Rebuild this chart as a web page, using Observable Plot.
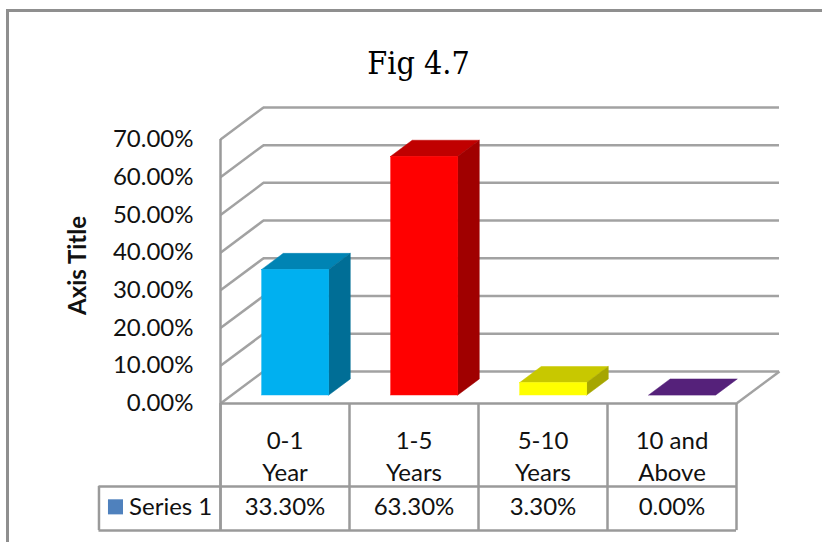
<!DOCTYPE html>
<html>
<head>
<meta charset="utf-8">
<script src="https://cdn.jsdelivr.net/npm/d3@7"></script>
<script src="https://cdn.jsdelivr.net/npm/@observablehq/plot@0.6"></script>
<style>
  html, body { margin: 0; padding: 0; background: #fff; }
  #wrap { position: relative; width: 822px; height: 542px; overflow: hidden; }
  #border {
    position: absolute; left: 6px; top: 9px; width: 900px; height: 600px;
    border: 3px solid #8f8f8f; box-sizing: border-box;
  }
  #chart { position: absolute; left: 0; top: 0; }
</style>
</head>
<body>
<div id="wrap"><div id="border"></div><div id="chart"></div></div>
<script>
// Years of experience distribution (Fig 4.7)
const categories = ["0-1\nYear", "1-5\nYears", "5-10\nYears", "10 and\nAbove"];
const values = [33.3, 63.3, 3.3, 0.0];
const seriesName = "Series 1";
const yTicks = [0, 10, 20, 30, 40, 50, 60, 70];
const frontColors = ["#00b0f0", "#ff0000", "#ffff00", "#7030a0"];
const topColors = ["#0084b4", "#c00000", "#c8c800", "#55217a"];
const sideColors = ["#006e96", "#a00000", "#a6a600", "#3f185c"];

// Oblique 3-D projection, expressed in data units of the front plane
const DX = 1 / 3;   // full depth, x shift (category units)
const DY = 8.5;     // full depth, y shift (percentage points)
const T0 = 0.25, T1 = 0.75; // bar front/back depth
const HALF = 0.26;  // half bar width
const left = -0.5, right = categories.length - 0.5;
const tableRow = -22, tableBottom = -33.7, legendLeft = -1.442;

const idx = categories.map((_, i) => i);

// bar faces
const fronts = idx.filter(i => values[i] > 0).map(i => ({
  x1: i - HALF + T0 * DX, x2: i + HALF + T0 * DX,
  y1: T0 * DY, y2: values[i] + T0 * DY, fill: frontColors[i]
}));
const sides = idx.filter(i => values[i] > 0).flatMap(i => [T0, T1].map(t => ({
  i, x: i + HALF + t * DX, y1: t * DY, y2: values[i] + t * DY, fill: sideColors[i]
})));
const tops = idx.flatMap(i => [T0, T1].map(t => ({
  i, y: values[i] + t * DY, x1: i - HALF + t * DX, x2: i + HALF + t * DX, fill: topColors[i]
})));

const grid = "#a2a2a2";
const line = "#9a9a9a";

const plot = Plot.plot({
  width: 822,
  height: 542,
  marginLeft: 220,
  marginRight: 86,
  marginTop: 139,
  marginBottom: 139,
  x: { domain: [left, right], axis: null },
  y: { domain: [0, 70], axis: null },
  color: { type: "identity" },
  style: { fontFamily: "Lato, 'Open Sans', sans-serif", fontSize: "24px", color: "#111", background: "transparent", overflow: "visible" },
  marks: [
    // side wall gridlines
    Plot.link(yTicks, { x1: left, y1: d => d, x2: left + DX, y2: d => d + DY, stroke: grid, strokeWidth: 2.5 }),
    // back wall gridlines
    Plot.ruleY(yTicks, { y: d => d + DY, x1: left + DX, x2: right + DX, stroke: grid, strokeWidth: 2.5 }),
    // floor right edge
    Plot.link([0], { x1: right, y1: 0, x2: right + DX, y2: DY, stroke: grid, strokeWidth: 2.5 }),
    // front vertical axis line, running down through the table
    Plot.ruleX([left], { y1: tableBottom, y2: 70, stroke: line, strokeWidth: 2.5 }),
    // floor front edge / table top
    Plot.ruleY([0], { x1: left, x2: right, stroke: line, strokeWidth: 2.5 }),
    // table grid
    Plot.ruleX(d3.range(categories.length + 1).map(k => k - 0.5), { y1: tableBottom, y2: 0, stroke: line, strokeWidth: 2.5 }),
    Plot.ruleX([legendLeft], { y1: tableBottom, y2: tableRow, stroke: line, strokeWidth: 2.5 }),
    Plot.ruleY([tableRow, tableBottom], { x1: legendLeft, x2: right, stroke: line, strokeWidth: 2.5 }),
    // bars
    Plot.areaX(tops, { y: "y", x1: "x1", x2: "x2", z: "i", fill: "fill", stroke: "fill", strokeWidth: 0.5 }),
    Plot.areaY(sides, { x: "x", y1: "y1", y2: "y2", z: "i", fill: "fill", stroke: "fill", strokeWidth: 0.5 }),
    Plot.rect(fronts, { x1: "x1", x2: "x2", y1: "y1", y2: "y2", fill: "fill", stroke: "fill", strokeWidth: 0.5 }),
    // value axis
    Plot.axisY({ ticks: yTicks, tickFormat: d => d.toFixed(2) + "%", tickSize: 0, tickPadding: 27, fontSize: 24, fill: "#111" }),
    Plot.text(["Axis Title"], { x: -1.605, y: 36.6, rotate: -90, fontWeight: "bold", fontSize: 24, fill: "#111" }),
    // data table
    Plot.text(idx, { x: i => i, y: -13.6, text: i => categories[i], lineHeight: 1.33, fontSize: 24, fill: "#111" }),
    Plot.text(idx, { x: i => i, y: -27.6, text: i => values[i].toFixed(2) + "%", fontSize: 24, fill: "#111" }),
    Plot.dot([0], { x: -1.314, y: -27.4, symbol: "square", r: 8.5, fill: "#4f81bd", stroke: null }),
    Plot.text([seriesName], { x: -1.209, y: -27.6, textAnchor: "start", fontSize: 24, fill: "#111" }),
    // title
    Plot.text(["Fig 4.7"], { frameAnchor: "top", dx: -60, dy: -88, fontFamily: "'DejaVu Serif Condensed', 'DejaVu Serif', serif", fontSize: 32, fill: "#000" })
  ]
});

document.getElementById("chart").appendChild(plot);
</script>
</body>
</html>
